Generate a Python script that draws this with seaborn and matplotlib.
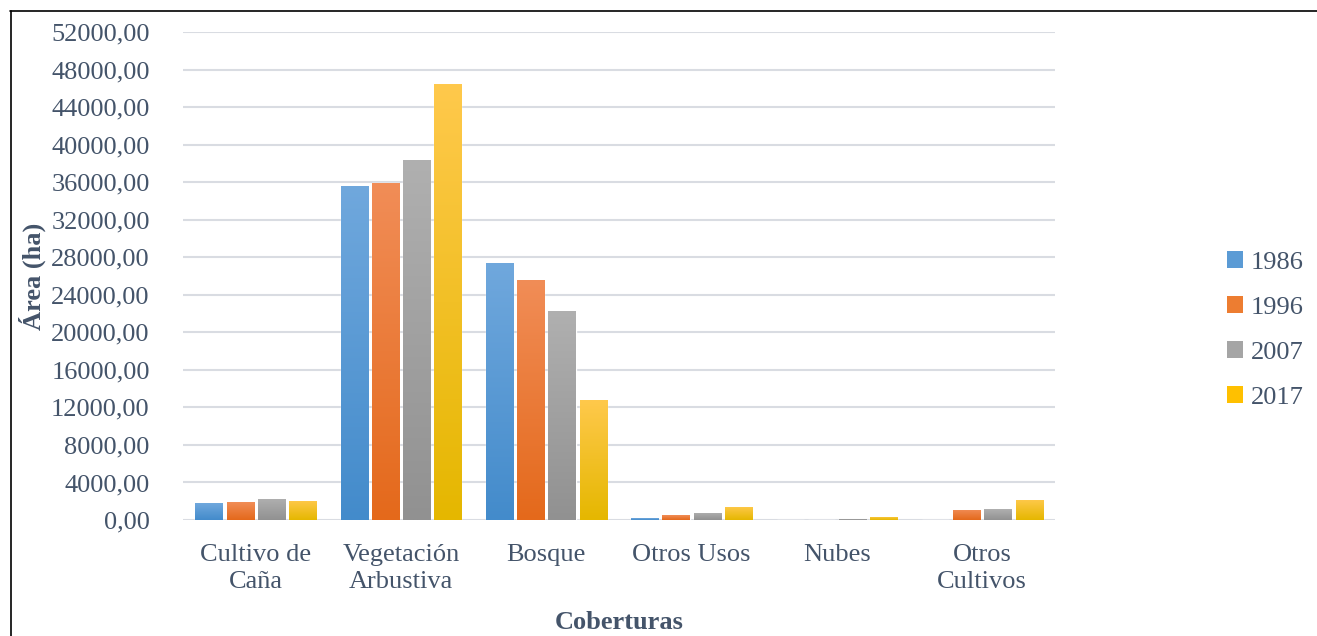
import numpy as np
import pandas as pd
import seaborn as sns
import matplotlib.pyplot as plt
from matplotlib.patches import Patch
from matplotlib.lines import Line2D
from matplotlib.colors import to_rgb

categories = ['Cultivo de\nCaña', 'Vegetación\nArbustiva', 'Bosque', 'Otros Usos', 'Nubes', 'Otros\nCultivos']
years = ['1986', '1996', '2007', '2017']
area_1986 = [1800, 35600, 27400, 210, 0, 0]
area_1996 = [1900, 35900, 25600, 530, 0, 1070]
area_2007 = [2250, 38400, 22300, 750, 110, 1170]
area_2017 = [2030, 46450, 12800, 1390, 320, 2140]

# light (top) / dark (bottom) of each bar's gradient
top_colors = ['#70A8DD', '#F18D57', '#B0B0B0', '#FFC94C']
bottom_colors = ['#438BCB', '#E4691B', '#919191', '#E5B700']
mid_colors = ['#5B9BD5', '#ED7D31', '#A5A5A5', '#FFC000']

text_color = '#44546A'
grid_color = '#D9DCE2'

df = pd.DataFrame({
    'Coberturas': categories * 4,
    'Año': np.repeat(years, len(categories)),
    'Área': area_1986 + area_1996 + area_2007 + area_2017,
})

sns.set_style('white')
plt.rcParams['font.family'] = ['Liberation Serif', 'DejaVu Serif']

fig = plt.figure(figsize=(13.17, 6.36), dpi=100)
ax = fig.add_axes([0.139, 0.1824, 0.662, 0.7673])

sns.barplot(data=df, x='Coberturas', y='Área', hue='Año', palette=mid_colors,
            width=0.86, gap=0.13, legend=False, ax=ax, saturation=1)

# vertical gradient on each bar
grad = np.linspace(0, 1, 256).reshape(-1, 1)
for i, cont in enumerate(ax.containers):
    c_top = np.array(to_rgb(top_colors[i]))
    c_bot = np.array(to_rgb(bottom_colors[i]))
    img = c_top[None, None, :] * (1 - grad[:, :, None]) + c_bot[None, None, :] * grad[:, :, None]
    for bar in cont:
        h = bar.get_height()
        if h <= 0:
            continue
        x0 = bar.get_x()
        w = bar.get_width()
        im = ax.imshow(img, extent=[x0, x0 + w, 0, h], aspect='auto',
                       origin='upper', zorder=bar.get_zorder() + 0.1)
        im.set_clip_path(bar)

ax.set_xlim(-0.5, 5.5)
ax.set_ylim(0, 52000)
yt = np.arange(0, 52001, 4000)
ax.set_yticks(yt)
ax.set_yticklabels([f'{v:.2f}'.replace('.', ',') for v in yt])
ax.tick_params(axis='both', length=0, labelsize=19, colors=text_color)
ax.tick_params(axis='y', pad=24)
ax.tick_params(axis='x', pad=17)
for lbl in ax.get_xticklabels():
    lbl.set_linespacing(1.3)
ax.yaxis.grid(True, color=grid_color, linewidth=1.5)
ax.set_axisbelow(True)
for s in ax.spines.values():
    s.set_visible(False)
ax.axhline(0, color=grid_color, linewidth=1.8, zorder=0.5)

ax.set_xlabel('Coberturas', fontsize=19, fontweight='bold', color=text_color, labelpad=13)
ax.set_ylabel('Área (ha)', fontsize=19, fontweight='bold', color=text_color, labelpad=4)

handles = [Patch(facecolor=c, edgecolor='none') for c in mid_colors]
fig.legend(handles, years, loc='center left', bbox_to_anchor=(1203 / 1317, 1 - 330 / 636),
           frameon=False, fontsize=19, labelcolor=text_color, handlelength=0.6,
           handleheight=0.6, handletextpad=0.3, labelspacing=0.85)

# frame lines at top and left of the figure
fig.add_artist(Line2D([10.5 / 1317, 10.5 / 1317], [0, 1 - 11 / 636], color='black', linewidth=1.2))
fig.add_artist(Line2D([10 / 1317, 1], [1 - 11 / 636, 1 - 11 / 636], color='black', linewidth=1.2))

fig.savefig('out.png', dpi=100)
